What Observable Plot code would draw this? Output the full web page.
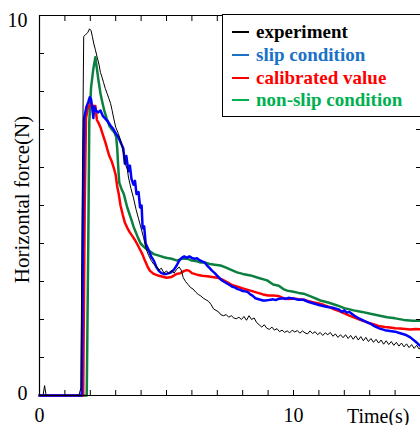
<!DOCTYPE html>
<html><head><meta charset="utf-8">
<script src="https://cdn.jsdelivr.net/npm/d3@7"></script>
<script src="https://cdn.jsdelivr.net/npm/@observablehq/plot@0.6"></script>
<style>
html,body{margin:0;padding:0;background:#fff;}
#wrap{position:relative;width:420px;height:425px;overflow:hidden;font-family:"Liberation Serif","Times New Roman",serif;}
#legend{position:absolute;left:222px;top:14px;width:220px;height:103px;border:1px solid #000;background:#fff;box-sizing:border-box;}
.item{position:absolute;left:0;height:23px;display:flex;align-items:center;font-weight:bold;font-size:19px;white-space:nowrap;}
.swatch{width:17px;height:2px;margin-left:9px;margin-right:7px;}
</style></head><body><div id="wrap"></div>
<script>
// Tick values
const xTicks = d3.range(0, 16);
const yTicks = d3.range(0, 11);
const xLabels = [0, 10];
const seriesNames = ["experiment", "slip condition", "calibrated value", "non-slip condition"];
const legendColors = ["#000000", "#1a72c8", "#ff0000", "#00b050"];
const lineColors = ["#000000", "#0000ff", "#ff0000", "#0b8040"];

// [time (s), horizontal force (N)]
const experiment = [[0,0],[0.14,0],[0.2,0.26],[0.26,0],[1.55,0],[1.63,0.2],[1.68,5],[1.74,9.45],[1.82,9.5],[1.9,9.55],[1.97,9.65],[2.03,9.6],[2.08,9.45],[2.14,9.25],[2.2,9.1],[2.27,8.9],[2.34,8.72],[2.4,8.5],[2.46,8.38],[2.52,8.24],[2.59,8.08],[2.66,7.95],[2.73,7.82],[2.8,7.68],[2.86,7.5],[2.92,7.3],[3.0,7.06],[3.1,6.9],[3.2,6.7],[3.3,6.4],[3.4,6.05],[3.46,5.95],[3.5,5.75],[3.6,5.45],[3.7,5.2],[3.8,4.9],[3.9,4.65],[4.0,4.4],[4.1,4.15],[4.2,3.85],[4.3,3.68],[4.4,3.55],[4.5,3.45],[4.6,3.4],[4.7,3.3],[4.8,3.35],[4.9,3.22],[5.0,3.28],[5.1,3.2],[5.2,3.3],[5.3,3.22],[5.4,3.32],[5.5,3.38],[5.58,3.3],[5.66,3.1],[5.75,3.0],[5.85,2.92],[5.95,2.84],[6.05,2.8],[6.15,2.72],[6.25,2.66],[6.35,2.62],[6.45,2.56],[6.55,2.52],[6.65,2.48],[6.75,2.4],[6.85,2.28],[6.95,2.24],[7.05,2.2],[7.15,2.12],[7.25,2.1],[7.35,2.13],[7.45,2.06],[7.55,2.1],[7.65,2.04],[7.75,2.02],[7.85,2.06],[7.95,2.0],[8.05,2.08],[8.15,1.98],[8.25,2.1],[8.35,2.0],[8.45,2.04],[8.55,1.92],[8.65,1.86],[8.75,1.8],[8.85,1.86],[8.95,1.77],[9.05,1.74],[9.15,1.8],[9.25,1.72],[9.35,1.76],[9.45,1.68],[9.55,1.72],[9.65,1.66],[9.75,1.7],[9.85,1.65],[9.95,1.72],[10.05,1.67],[10.15,1.71],[10.25,1.64],[10.35,1.7],[10.45,1.65],[10.55,1.62],[10.65,1.7],[10.75,1.63],[10.85,1.68],[10.95,1.6],[11.05,1.66],[11.15,1.58],[11.25,1.65],[11.35,1.6],[11.45,1.66],[11.55,1.56],[11.65,1.62],[11.75,1.53],[11.85,1.6],[11.95,1.52],[12.05,1.6],[12.15,1.5],[12.25,1.58],[12.35,1.48],[12.45,1.57],[12.55,1.46],[12.65,1.55],[12.75,1.44],[12.85,1.53],[12.95,1.42],[13.05,1.5],[13.15,1.4],[13.25,1.48],[13.35,1.38],[13.45,1.46],[13.55,1.35],[13.65,1.44],[13.75,1.34],[13.85,1.42],[13.95,1.32],[14.05,1.4],[14.15,1.3],[14.25,1.38],[14.35,1.28],[14.45,1.36],[14.55,1.26],[14.65,1.34],[14.75,1.24],[14.85,1.32],[14.95,1.22],[15.0,1.27]];

const slipCondition = [[0,0],[1.66,0],[1.72,5],[1.76,7.3],[1.85,7.6],[1.92,7.72],[1.98,7.85],[2.03,7.8],[2.08,7.55],[2.12,7.3],[2.16,7.6],[2.22,7.5],[2.3,7.45],[2.4,7.5],[2.5,7.35],[2.6,7.28],[2.7,7.2],[2.8,7.1],[2.9,7.02],[3.0,6.9],[3.1,6.8],[3.2,6.65],[3.3,6.5],[3.36,6.1],[3.42,6.3],[3.5,5.9],[3.56,6.05],[3.62,5.7],[3.7,5.55],[3.76,5.65],[3.82,5.3],[3.9,5.35],[3.96,4.95],[4.02,5.0],[4.06,4.4],[4.12,4.45],[4.18,4.0],[4.3,3.82],[4.4,3.65],[4.5,3.55],[4.6,3.38],[4.7,3.28],[4.8,3.22],[4.9,3.2],[5.0,3.2],[5.1,3.22],[5.2,3.25],[5.3,3.32],[5.4,3.42],[5.5,3.55],[5.6,3.62],[5.7,3.66],[5.8,3.62],[5.9,3.66],[6.0,3.62],[6.1,3.6],[6.2,3.61],[6.3,3.56],[6.4,3.53],[6.5,3.5],[6.6,3.42],[6.7,3.35],[6.8,3.28],[6.9,3.22],[7.0,3.15],[7.1,3.08],[7.2,3.02],[7.3,2.98],[7.4,2.94],[7.5,2.9],[7.6,2.86],[7.7,2.84],[7.8,2.8],[7.9,2.78],[8.0,2.75],[8.1,2.74],[8.2,2.72],[8.3,2.66],[8.4,2.62],[8.5,2.56],[8.6,2.54],[8.7,2.52],[8.8,2.5],[8.9,2.5],[9.0,2.51],[9.1,2.52],[9.2,2.53],[9.3,2.51],[9.4,2.54],[9.5,2.55],[9.6,2.56],[9.7,2.54],[9.8,2.57],[9.9,2.56],[10.0,2.55],[10.2,2.52],[10.4,2.52],[10.6,2.46],[10.8,2.42],[11.0,2.38],[11.2,2.35],[11.4,2.32],[11.6,2.3],[11.8,2.26],[11.9,2.2],[12.0,2.24],[12.1,2.18],[12.2,2.2],[12.4,2.1],[12.6,2.02],[12.8,1.96],[13.0,1.9],[13.2,1.82],[13.4,1.76],[13.6,1.72],[13.8,1.7],[14.0,1.68],[14.2,1.64],[14.4,1.6],[14.6,1.53],[14.8,1.42],[15.0,1.3]];

const calibratedValue = [[0,0],[1.72,0],[1.78,5],[1.83,7.3],[1.9,7.55],[1.96,7.62],[2.02,7.68],[2.1,7.62],[2.2,7.62],[2.26,7.25],[2.32,7.18],[2.4,7.06],[2.5,6.85],[2.6,6.65],[2.67,6.48],[2.75,6.3],[2.85,6.15],[2.93,5.98],[3.0,5.8],[3.06,5.5],[3.12,5.3],[3.19,5.0],[3.28,4.75],[3.36,4.55],[3.45,4.42],[3.55,4.3],[3.65,4.2],[3.75,4.1],[3.85,3.98],[3.95,3.85],[4.05,3.72],[4.15,3.55],[4.25,3.4],[4.35,3.28],[4.5,3.2],[4.7,3.15],[4.9,3.12],[5.0,3.1],[5.2,3.12],[5.4,3.2],[5.55,3.22],[5.7,3.28],[5.8,3.3],[5.9,3.28],[6.0,3.22],[6.2,3.18],[6.4,3.15],[6.6,3.14],[6.8,3.12],[7.0,3.1],[7.2,3.05],[7.4,2.98],[7.6,2.9],[7.8,2.86],[8.0,2.82],[8.2,2.78],[8.4,2.74],[8.6,2.7],[8.8,2.66],[9.0,2.63],[9.2,2.63],[9.4,2.62],[9.6,2.56],[9.8,2.54],[10.0,2.55],[10.2,2.53],[10.4,2.52],[10.6,2.48],[10.8,2.45],[11.0,2.42],[11.2,2.38],[11.4,2.33],[11.6,2.27],[11.8,2.22],[12.0,2.16],[12.2,2.1],[12.4,2.05],[12.6,2.0],[12.8,1.95],[13.0,1.9],[13.2,1.86],[13.4,1.82],[13.6,1.8],[13.8,1.79],[14.0,1.77],[14.2,1.76],[14.4,1.75],[14.6,1.74],[14.8,1.75],[15.0,1.74]];

const nonSlipCondition = [[0,0],[1.86,0],[1.92,4],[1.96,7.2],[2.03,8.1],[2.12,8.6],[2.2,8.9],[2.26,8.6],[2.32,8.3],[2.4,7.95],[2.48,7.7],[2.55,7.5],[2.65,7.28],[2.75,7.1],[2.85,7.0],[2.95,6.92],[3.02,6.8],[3.06,6.5],[3.1,6.0],[3.14,5.6],[3.22,5.45],[3.32,5.3],[3.45,4.96],[3.58,4.7],[3.71,4.43],[3.85,4.2],[3.98,4.0],[4.1,3.92],[4.2,3.86],[4.37,3.78],[4.5,3.72],[4.7,3.68],[4.9,3.64],[5.03,3.62],[5.2,3.6],[5.42,3.55],[5.6,3.6],[5.81,3.6],[6.0,3.55],[6.2,3.53],[6.34,3.5],[6.5,3.5],[6.7,3.46],[6.9,3.44],[7.13,3.42],[7.3,3.38],[7.5,3.32],[7.78,3.24],[8.0,3.2],[8.31,3.16],[8.6,3.1],[8.96,3.03],[9.2,2.92],[9.42,2.89],[9.6,2.8],[9.75,2.76],[10.0,2.73],[10.2,2.7],[10.4,2.68],[10.7,2.6],[11.06,2.5],[11.4,2.44],[11.72,2.37],[12.0,2.3],[12.37,2.24],[12.7,2.2],[13.03,2.15],[13.4,2.1],[13.69,2.06],[14.0,2.03],[14.34,1.99],[14.7,1.97],[15.0,1.97]];

const font = "'Liberation Serif','Times New Roman',serif";
const lineOpts = (c, w) => ({x: d => d[0], y: d => d[1], stroke: c, strokeWidth: w, strokeLinejoin: "round"});

const plot = Plot.plot({
  width: 420, height: 425,
  marginLeft: 39, marginRight: 0, marginTop: 15, marginBottom: 30,
  x: {domain: [0, 15]},
  y: {domain: [0, 10]},
  style: {fontFamily: font, fontSize: "20px", background: "white", color: "black", overflow: "visible"},
  marks: [
    Plot.line(nonSlipCondition, lineOpts(lineColors[3], 2.5)),
    Plot.line(calibratedValue, lineOpts(lineColors[2], 2.5)),
    Plot.line(slipCondition, lineOpts(lineColors[1], 2.5)),
    Plot.line(experiment, lineOpts(lineColors[0], 1)),
    Plot.ruleX([0], {stroke: "black", strokeWidth: 1.2}),
    Plot.ruleY([0, 10], {stroke: "black", strokeWidth: 1.2}),
    Plot.axisX(xTicks, {anchor: "bottom", tickSize: -5, tickFormat: () => "", label: null}),
    Plot.axisX(xTicks, {anchor: "top", tickSize: -5, tickFormat: () => "", label: null}),
    Plot.axisY(yTicks, {anchor: "left", tickSize: -5, tickFormat: () => "", label: null}),
    Plot.axisY(yTicks, {anchor: "right", tickSize: -5, tickFormat: () => "", label: null}),
    Plot.axisX(xLabels, {anchor: "bottom", tickSize: 0, tickPadding: 12, label: null, fontSize: 20}),
    Plot.axisY([0], {anchor: "left", tickSize: 0, tickPadding: 12, label: null, fontSize: 20, dy: -2}),
    Plot.axisY([10], {anchor: "left", tickSize: 0, tickPadding: 12, label: null, fontSize: 20, dy: 5}),
    Plot.text(["Time(s)"], {frameAnchor: "bottom-right", textAnchor: "end", lineAnchor: "bottom", dx: -11, dy: 27, fontSize: 20}),
    Plot.text(["Horizontal force(N)"], {frameAnchor: "left", rotate: -90, textAnchor: "middle", lineAnchor: "bottom", dx: -11, dy: -6, fontSize: 21})
  ]
});

const wrap = document.getElementById("wrap");
wrap.appendChild(plot);
const legend = document.createElement("div");
legend.id = "legend";
const centers = [17, 40, 63, 85];
seriesNames.forEach((name, i) => {
  const item = document.createElement("div");
  item.className = "item";
  item.style.top = (centers[i] - 11.5) + "px";
  const sw = document.createElement("div");
  sw.className = "swatch";
  sw.style.background = legendColors[i];
  const tx = document.createElement("span");
  tx.textContent = name;
  tx.style.color = legendColors[i];
  item.appendChild(sw);
  item.appendChild(tx);
  legend.appendChild(item);
});
wrap.appendChild(legend);
</script>
</body></html>
